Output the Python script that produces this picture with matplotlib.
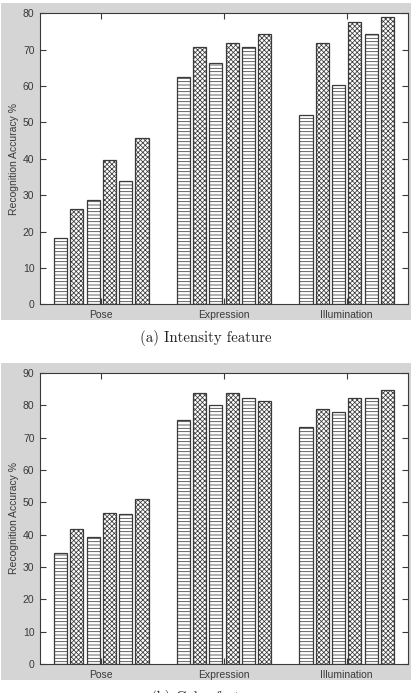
import numpy as np
import matplotlib
matplotlib.use('Agg')
from matplotlib import pyplot as plt
from matplotlib.patches import Rectangle

groups = ['Pose', 'Expression', 'Illumination']
# six methods per group
intensity = [[18.2, 26.3, 28.6, 39.7, 34.0, 45.6],
             [62.6, 70.6, 66.2, 71.8, 70.8, 74.2],
             [52.0, 71.8, 60.2, 77.6, 74.2, 78.9]]
color = [[34.3, 41.7, 39.2, 46.8, 46.3, 51.1],
         [75.5, 83.7, 80.0, 83.7, 82.4, 81.2],
         [73.2, 78.9, 77.9, 82.3, 82.3, 84.7]]
yticks_a = list(range(0, 81, 10))
yticks_b = list(range(0, 91, 10))
captions = ['(a) Intensity feature', '(b) Color feature']

W, H = 412, 693
plt.rcParams['font.family'] = ['Liberation Sans', 'DejaVu Sans']
plt.rcParams['hatch.linewidth'] = 0.55
fig = plt.figure(figsize=(W / 100, H / 100), dpi=100)
fig.patch.set_facecolor('white')

grey = '#d5d5d5'
dark = '#3a3a3a'

def panel(data, yticks, top_px, bot_px, grey_top, grey_bot, caption):
    fig.patches.append(Rectangle((1 / W, 1 - grey_bot / H), 410 / W, (grey_bot - grey_top) / H,
                                 transform=fig.transFigure, facecolor=grey, edgecolor='none', zorder=-10))
    ax = fig.add_axes([40 / W, 1 - bot_px / H, 368 / W, (bot_px - top_px) / H])
    ax.set_zorder(1)
    data = np.array(data)
    x = np.arange(1, len(groups) + 1)
    step = 0.133
    for i in range(data.shape[1]):
        hatch = '-----' if i % 2 == 0 else 'xxxxxxx'
        ax.bar(x + (i - 2.5) * step, data[:, i], width=0.108, facecolor='white',
               edgecolor=dark, linewidth=0.9, hatch=hatch, zorder=2)
    ax.set_xlim(0.5, 3.5)
    ax.set_ylim(yticks[0], yticks[-1])
    ax.set_yticks(yticks)
    ax.set_xticks(x)
    ax.set_xticklabels(groups)
    ax.tick_params(direction='in', top=True, right=True, length=4, width=0.8,
                   labelsize=7.5, colors=dark, pad=4)
    for s in ax.spines.values():
        s.set_color(dark)
        s.set_linewidth(0.8)
    ax.set_ylabel('Recognition Accuracy %', fontsize=7.5, color=dark, labelpad=3)
    fig.text(0.5, 1 - (grey_bot + 18) / H, caption, ha='center', va='center',
             fontsize=10.7, family='cmr10', color='#222222')
    return ax

panel(intensity, yticks_a, 13.3, 304.3, 3, 320, captions[0])
panel(color, yticks_b, 373, 664, 363, 680, captions[1])

fig.savefig('out.png', dpi=100)
